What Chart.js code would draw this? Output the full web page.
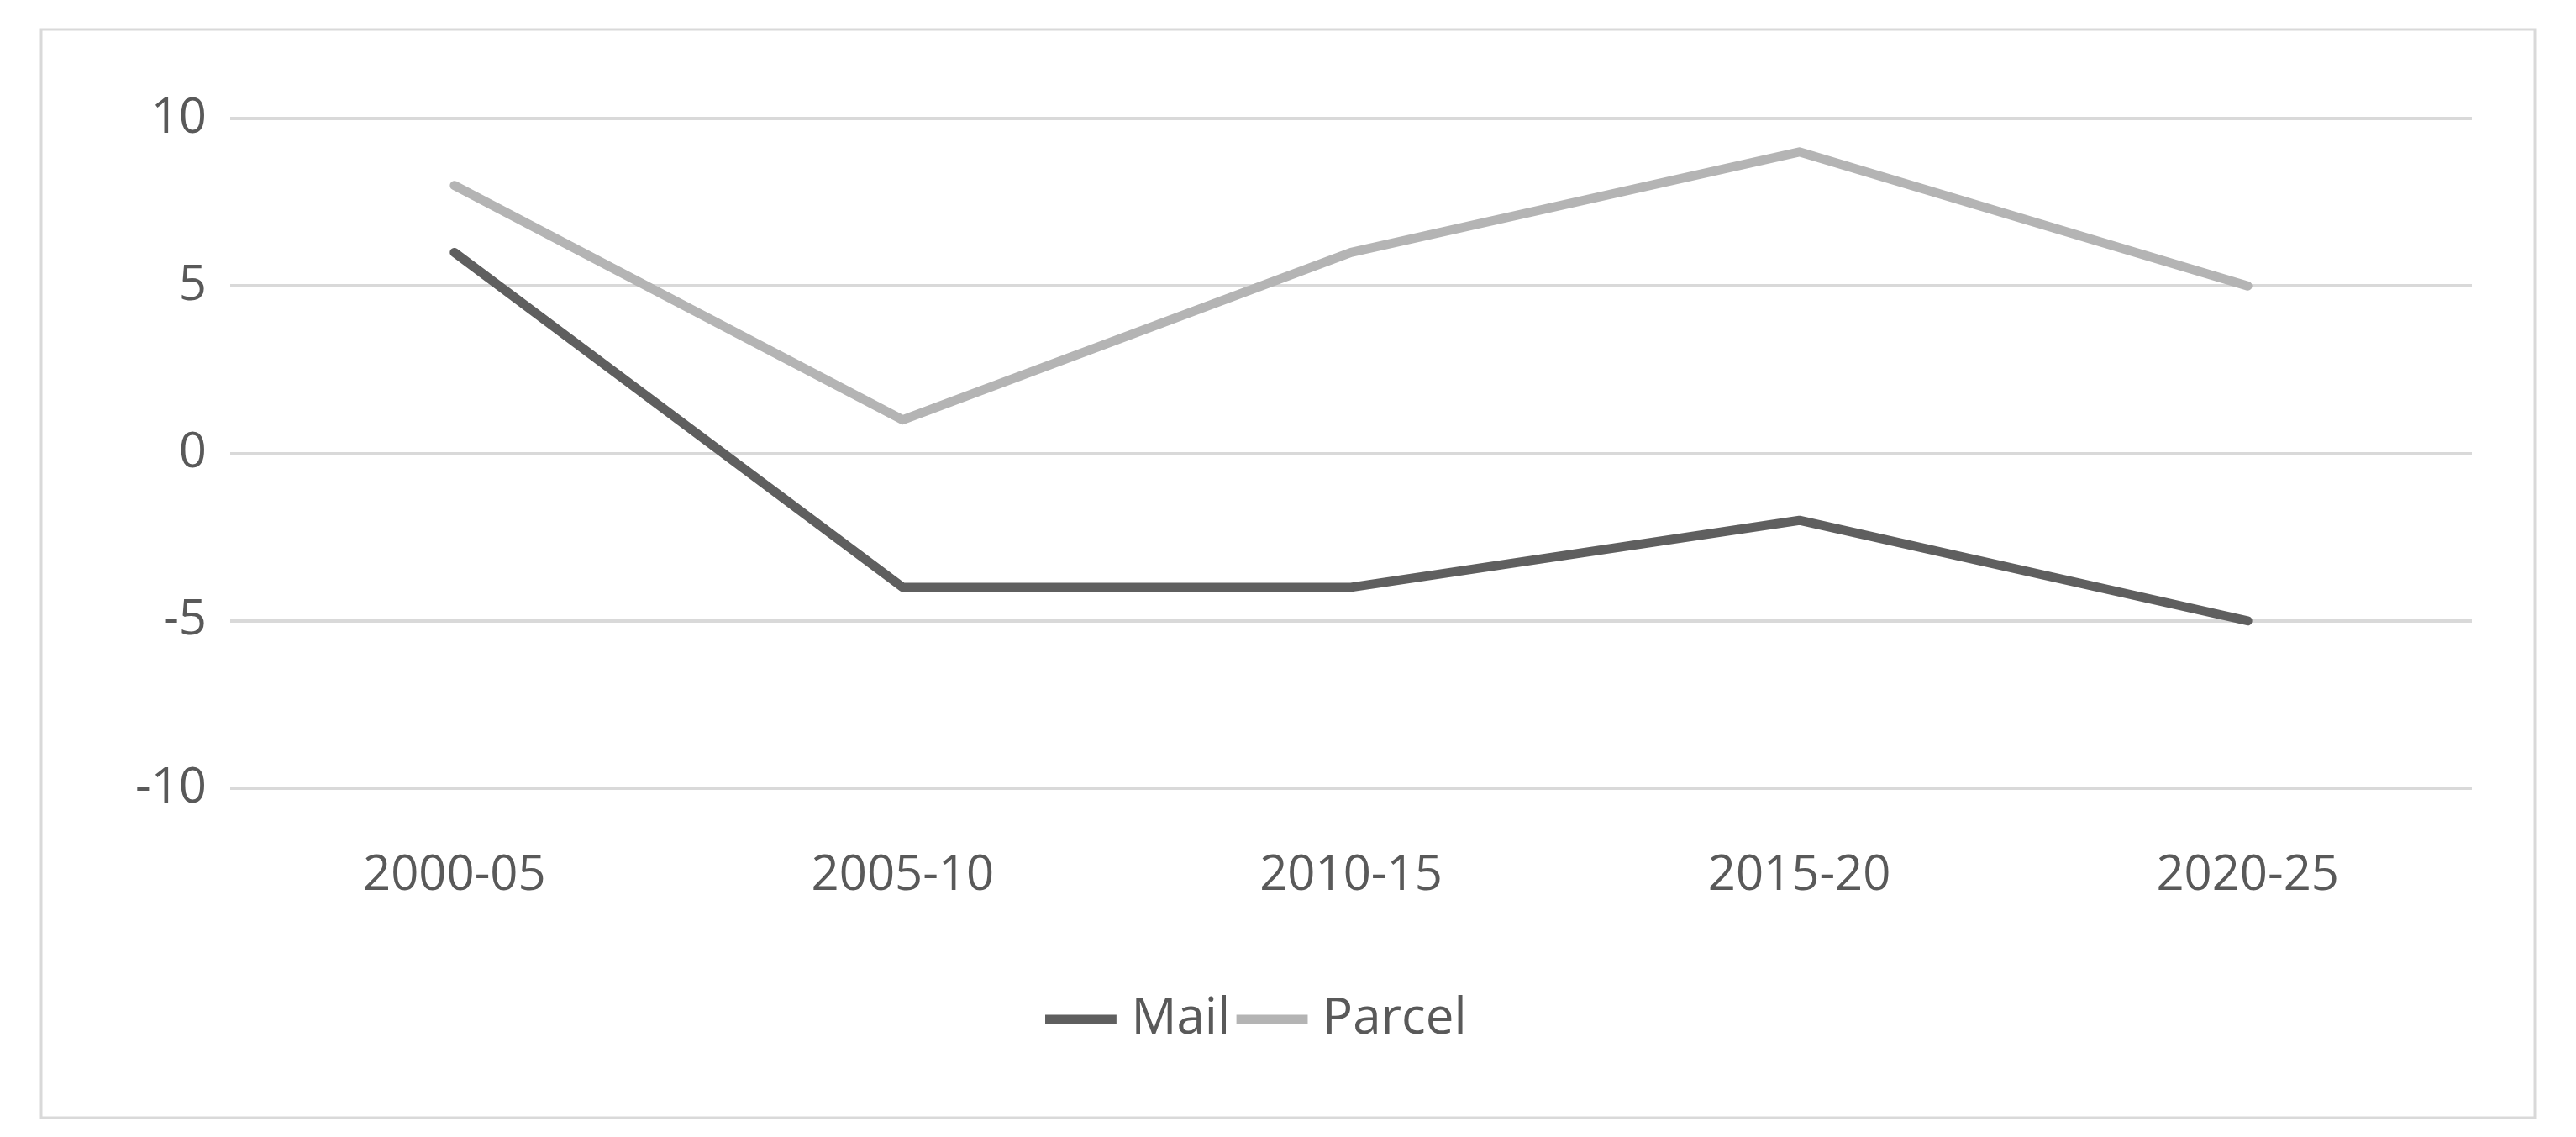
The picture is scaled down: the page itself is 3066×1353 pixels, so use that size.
<!DOCTYPE html>
<html><head><meta charset="utf-8">
<script src="https://cdn.jsdelivr.net/npm/chart.js@4"></script>
<style>html,body{margin:0;padding:0;background:#fff}#w{position:relative;width:3066px;height:1353px}</style>
</head><body><div id="w"><canvas id="c" width="3066" height="1353"></canvas></div>
<script>
const categories=["2000-05","2005-10","2010-15","2015-20","2020-25"];
const mailValues=[6,-4,-4,-2,-5];
const parcelValues=[8,1,6,9,5];
const yTicks=[-10,-5,0,5,10];
const border={id:'border',beforeDraw(ch){const c=ch.ctx;c.save();c.strokeStyle='#d9d9d9';c.lineWidth=3;c.strokeRect(49,35,2968,1295);c.restore();}};
new Chart(document.getElementById('c'),{type:'line',
data:{labels:categories,datasets:[
{label:'Mail',data:mailValues,borderColor:'#5f5f5f',backgroundColor:'#5f5f5f',borderWidth:11,pointRadius:0,borderCapStyle:'round',borderJoinStyle:'round',tension:0},
{label:'Parcel',data:parcelValues,borderColor:'#b4b4b4',backgroundColor:'#b4b4b4',borderWidth:11,pointRadius:0,borderCapStyle:'round',borderJoinStyle:'round',tension:0}]},
plugins:[border],
options:{responsive:false,animation:false,devicePixelRatio:1,
layout:{padding:{left:60,right:124,top:141,bottom:100}},
plugins:{tooltip:{enabled:false},legend:{position:'bottom',labels:{usePointStyle:true,pointStyle:'line',boxWidth:180,color:'#595959',font:{family:'Open Sans',size:60},padding:20}}},
scales:{
x:{offset:true,grid:{display:false},border:{display:false},ticks:{color:'#595959',font:{family:'Open Sans',size:58},padding:62},afterFit(s){s.height=225;}},
y:{min:-10,max:10,afterBuildTicks(s){s.ticks=yTicks.map(v=>({value:v}));},grid:{color:'#d9d9d9',lineWidth:4,drawTicks:false},border:{display:false},ticks:{color:'#595959',font:{family:'Open Sans',size:58},padding:28},afterFit(s){s.width=214;}}}}});
</script></body></html>
